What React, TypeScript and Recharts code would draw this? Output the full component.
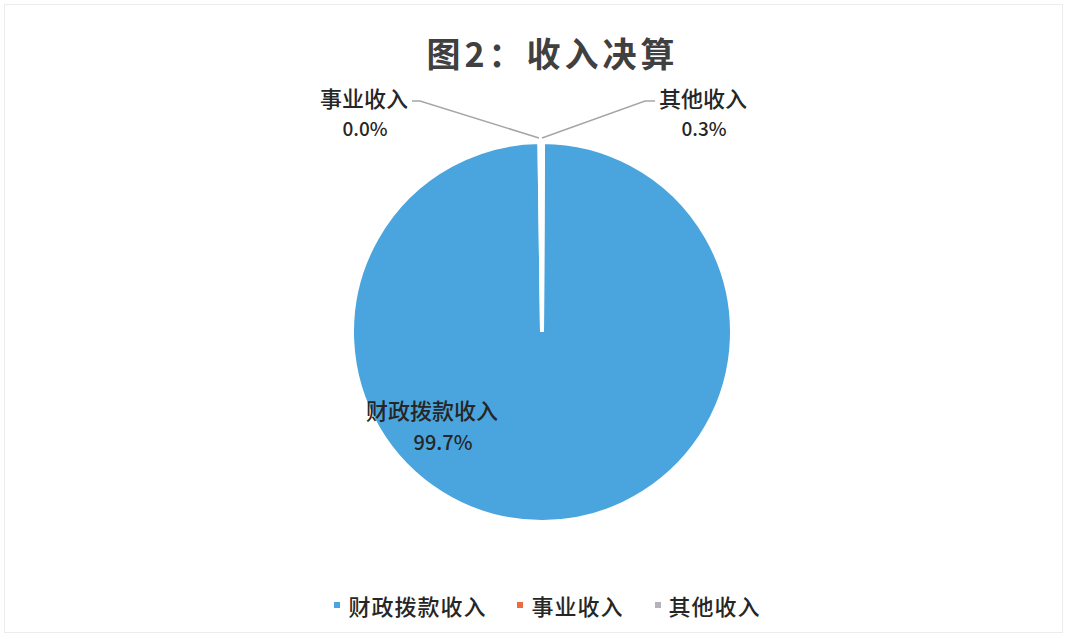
import React from "react";
import { PieChart, Pie, Cell, Legend } from "recharts";

const categories = ["财政拨款收入", "事业收入", "其他收入"];
const shares = [99.7, 0.0, 0.3];
const colors = ["#4AA5DE", "#EC6B3F", "#B3B3BB"];
const sliceFills = ["#4AA5DE", "#EC6B3F", "#FFFFFF"];
const title = "图2：收入决算";

const data = categories.map((name, i) => ({ name, value: shares[i] }));

const FONT = "'Noto Sans CJK SC', 'Noto Sans', sans-serif";
const TEXT = "#262626";

const renderLabel = (props: any) => {
  const { cx, cy, outerRadius, index, value, name } = props;
  const pct = `${Number(value).toFixed(1)}%`;
  const topY = cy - outerRadius - 4;
  if (index === 0) {
    return (
      <g key="l0">
        <text x={cx - 110} y={cy + 77} textAnchor="middle" dominantBaseline="central" fontSize={22} fontWeight={500} fill={TEXT} fontFamily={FONT}>{name}</text>
        <text x={cx - 99} y={cy + 109} textAnchor="middle" dominantBaseline="central" fontSize={20} fontWeight={500} fill={TEXT} fontFamily={FONT}>{pct}</text>
      </g>
    );
  }
  if (index === 1) {
    const bx = cx - 122, by = cy - 231;
    return (
      <g key="l1">
        <path d={`M${cx - 3},${topY} L${bx},${by} L${bx - 8},${by}`} stroke="#A6A6A6" strokeWidth={1.5} fill="none" />
        <text x={cx - 178} y={cy - 235} textAnchor="middle" dominantBaseline="central" fontSize={22} fontWeight={500} fill={TEXT} fontFamily={FONT}>{name}</text>
        <text x={cx - 177} y={cy - 205} textAnchor="middle" dominantBaseline="central" fontSize={19} fontWeight={500} fill={TEXT} fontFamily={FONT}>{pct}</text>
      </g>
    );
  }
  const bx = cx + 103, by = cy - 231;
  return (
    <g key="l2">
      <path d={`M${cx},${topY} L${bx},${by} L${bx + 10},${by}`} stroke="#A6A6A6" strokeWidth={1.5} fill="none" />
      <text x={cx + 161} y={cy - 235} textAnchor="middle" dominantBaseline="central" fontSize={22} fontWeight={500} fill={TEXT} fontFamily={FONT}>{name}</text>
      <text x={cx + 162} y={cy - 205} textAnchor="middle" dominantBaseline="central" fontSize={19} fontWeight={500} fill={TEXT} fontFamily={FONT}>{pct}</text>
    </g>
  );
};

const renderLegend = () => (
  <div style={{ display: "flex", justifyContent: "center", alignItems: "center", fontFamily: FONT, paddingLeft: 26 }}>
    {categories.map((c, i) => (
      <div key={c} style={{ display: "flex", alignItems: "center", marginRight: i < categories.length - 1 ? 31 : 0 }}>
        <span style={{ width: 6, height: 6, background: colors[i], display: "inline-block", marginRight: 8 }} />
        <span style={{ fontSize: 22, fontWeight: 500, color: TEXT, letterSpacing: 1 }}>{c}</span>
      </div>
    ))}
  </div>
);

export default function App() {
  return (
    <div style={{ position: "absolute", left: 0, top: 0, width: 1069, height: 639, background: "#ffffff" }}>
      <div style={{ position: "absolute", left: 4, top: 4, width: 1059, height: 629, border: "1px solid #ececec", boxSizing: "border-box" }} />
      <div style={{ position: "absolute", left: 0, top: 28, width: 1069, textAlign: "center", fontFamily: FONT, fontSize: 34, fontWeight: 700, color: "#404040", letterSpacing: 4, paddingLeft: 18 }}>
        {title}
      </div>
      <div style={{ position: "absolute", left: 0, top: 0 }}>
        <PieChart width={1069} height={639}>
          <Pie
            data={data}
            dataKey="value"
            nameKey="name"
            cx={537}
            cy={327}
            outerRadius={190}
            startAngle={89.7}
            endAngle={-270.3}
            stroke="#ffffff"
            strokeWidth={4}
            label={renderLabel}
            labelLine={false}
            isAnimationActive={false}
          >
            {data.map((d, i) => (
              <Cell key={d.name} fill={sliceFills[i]} />
            ))}
          </Pie>
          <Legend verticalAlign="bottom" content={renderLegend} wrapperStyle={{ bottom: 18 }} />
        </PieChart>
      </div>
    </div>
  );
}
